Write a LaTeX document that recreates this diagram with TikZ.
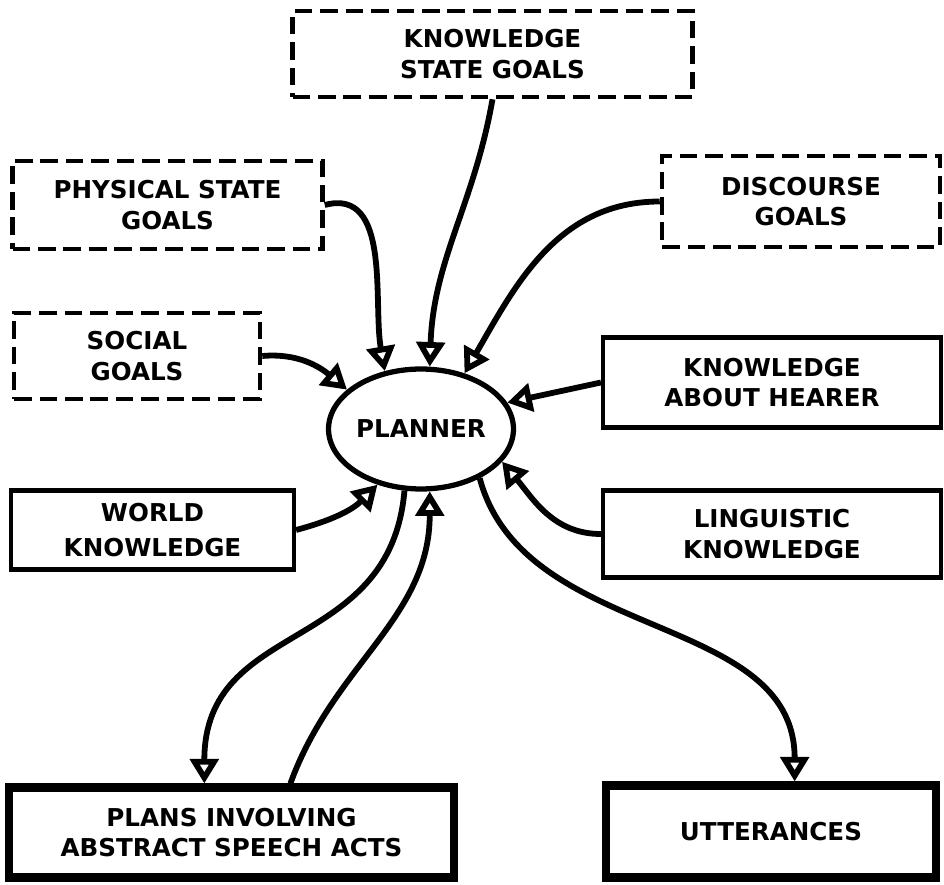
\documentclass[tikz,border=0pt]{standalone}
\usepackage{fontspec}
\setmainfont{DejaVu Sans}
\usepackage{tikz}
\usetikzlibrary{calc,positioning,arrows.meta,shapes}
\tikzset{
	every node/.style={font=\bfseries\fontsize{14}{17.5}\selectfont, align=center, inner sep=0pt},
	goalbox/.style={draw, line width=2.6pt, dash pattern=on 10pt off 4.5pt},
	infobox/.style={draw, line width=2.4pt},
	outbox/.style={draw, line width=4.6pt},
	flow/.style={-{Triangle[open,length=14pt,width=16pt]}, line width=3.3pt},
}

\begin{document}
\begin{tikzpicture}[x=0.02cm, y=-0.02cm]
        \useasboundingbox (0,0) rectangle (944,885);
        \node[ellipse, draw, line width=3pt, minimum width=3.7cm, minimum height=2.4cm] (planner) at (421,429) {PLANNER};
        \node[goalbox, minimum width=8.0cm, minimum height=1.72cm] (ksg) at (492.5,54) {KNOWLEDGE\\STATE GOALS};
        \node[goalbox, minimum width=6.2cm, minimum height=1.76cm] (psg) at (167.5,205) {PHYSICAL STATE\\GOALS};
        \node[goalbox, minimum width=5.56cm, minimum height=1.82cm] (dg) at (801,201.5) {DISCOURSE\\GOALS};
        \node[goalbox, minimum width=4.92cm, minimum height=1.72cm] (sg) at (137,356) {SOCIAL\\GOALS};
        \node[infobox, minimum width=6.76cm, minimum height=1.8cm] (kah) at (772,382.5) {KNOWLEDGE\\ABOUT HEARER};
        \node[infobox, minimum width=5.66cm, minimum height=1.58cm, font=\bfseries\fontsize{14}{20}\selectfont] (wk) at (152.5,530) {WORLD\\KNOWLEDGE};
        \node[infobox, minimum width=6.76cm, minimum height=1.74cm] (lk) at (772,534) {LINGUISTIC\\KNOWLEDGE};
        \node[outbox, minimum width=8.9cm, minimum height=1.8cm] (plans) at (231.5,832.5) {PLANS INVOLVING\\ABSTRACT SPEECH ACTS};
        \node[outbox, minimum width=6.6cm, minimum height=1.84cm] (utt) at (771,831.5) {UTTERANCES};

        \draw[flow] (ksg.south) to[out=-100, in=88] (planner.82);
        \draw[flow] (psg.east) to[out=15, in=100] (planner.122);
        \draw[flow] (dg.west) to[out=180, in=60] (planner.52);
        \draw[flow] (sg.east) to[out=5, in=140] (planner.152);
        \draw[flow] (kah.west) -- (planner.17);
        \draw[flow] (wk.east) to[out=15, in=-135] (planner.-128);
        \draw[flow] (lk.west) to[out=180, in=-50] (planner.-22);
        \draw[flow] (planner.-105) to[out=-95, in=90, looseness=1.2] ($(plans.north west)!0.44!(plans.north east)$);
        \draw[flow] ($(plans.north west)!0.63!(plans.north east)$) to[out=70, in=-90] (planner.-82);
        \draw[flow] (planner.-40) to[out=-75, in=90] ($(utt.north west)!0.57!(utt.north east)$);
    \end{tikzpicture}
\end{document}
